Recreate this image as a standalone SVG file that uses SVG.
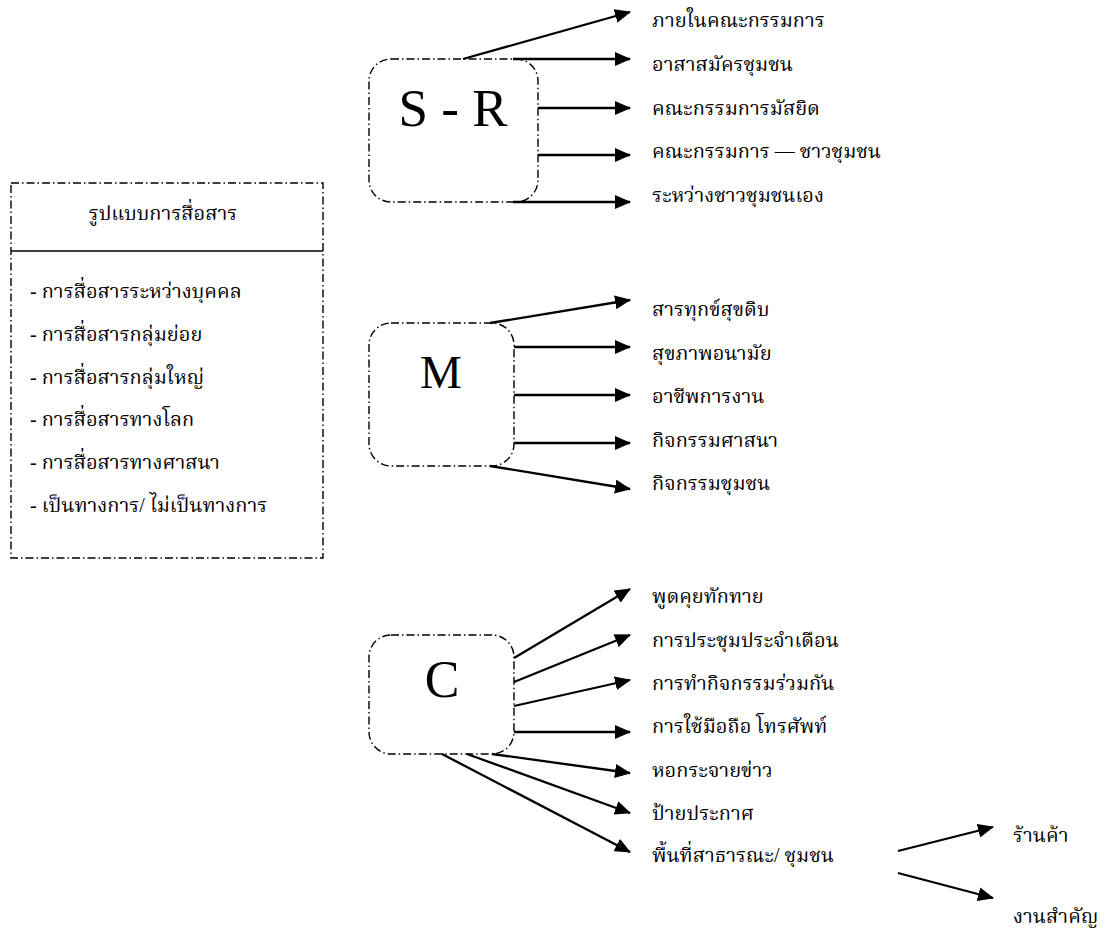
<svg xmlns="http://www.w3.org/2000/svg" width="1106" height="933" viewBox="0 0 1106 933">
  <defs>
    <marker id="arrow" viewBox="0 0 16 14" refX="15" refY="7" markerWidth="16" markerHeight="14" markerUnits="userSpaceOnUse" orient="auto">
      <path d="M0,0 L16,7 L0,14 Z" fill="#000"/>
    </marker>
    <style>
      .frame { fill: #fff; stroke: #000; stroke-width: 1.4; stroke-dasharray: 8 3 1.5 3; }
      .rule { stroke: #000; stroke-width: 1.6; }
      .link { fill: none; stroke: #000; stroke-width: 2.3; marker-end: url(#arrow); }
      .big { font-family: "Liberation Serif", "Times New Roman", serif; fill: #000; text-anchor: middle; }
      .th { font-family: "Liberation Serif", "Noto Serif Thai", "Noto Sans Thai", "DejaVu Serif", serif; font-size: 20px; fill: #000; }
      .bg { fill: #fff; }
    </style>
  </defs>
  <rect class="bg" x="0" y="0" width="1106" height="933"/>

  <!-- communication forms panel -->
  <g id="forms">
    <rect class="frame" x="11" y="183" width="312" height="375"/>
    <line class="rule" x1="11" y1="251" x2="323" y2="251"/>
    <text class="th" x="163" y="220" text-anchor="middle">รูปแบบการสื่อสาร</text>
    <text class="th" x="30" y="298">- การสื่อสารระหว่างบุคคล</text>
    <text class="th" x="30" y="341">- การสื่อสารกลุ่มย่อย</text>
    <text class="th" x="30" y="384">- การสื่อสารกลุ่มใหญ่</text>
    <text class="th" x="30" y="426">- การสื่อสารทางโลก</text>
    <text class="th" x="30" y="469">- การสื่อสารทางศาสนา</text>
    <text class="th" x="30" y="512">- เป็นทางการ/ ไม่เป็นทางการ</text>
  </g>

  <!-- sender / receiver -->
  <g id="node-sr">
    <rect class="frame" x="369" y="59" width="169" height="143" rx="22" ry="22"/>
    <text class="big" x="453" y="126" font-size="53">S - R</text>
  </g>

  <!-- message -->
  <g id="node-m">
    <rect class="frame" x="369" y="323" width="145" height="143" rx="22" ry="22"/>
    <text class="big" x="441" y="388" font-size="47">M</text>
  </g>

  <!-- channel -->
  <g id="node-c">
    <rect class="frame" x="369" y="635" width="145" height="119" rx="22" ry="22"/>
    <text class="big" x="442" y="697" font-size="52">C</text>
  </g>

  <g id="connectors">
    <!-- S - R -->
    <line class="link" x1="463" y1="59" x2="630" y2="12"/>
    <line class="link" x1="513" y1="59" x2="630" y2="59"/>
    <line class="link" x1="538" y1="108" x2="630" y2="108"/>
    <line class="link" x1="538" y1="155" x2="630" y2="155"/>
    <line class="link" x1="513" y1="202" x2="630" y2="202"/>
    <!-- M -->
    <line class="link" x1="490" y1="323" x2="630" y2="300"/>
    <line class="link" x1="514" y1="347" x2="630" y2="347"/>
    <line class="link" x1="514" y1="395" x2="630" y2="395"/>
    <line class="link" x1="514" y1="443" x2="630" y2="443"/>
    <line class="link" x1="490" y1="466" x2="630" y2="489"/>
    <!-- C -->
    <line class="link" x1="514" y1="658" x2="630" y2="589"/>
    <line class="link" x1="514" y1="682" x2="630" y2="635"/>
    <line class="link" x1="514" y1="706" x2="630" y2="680"/>
    <line class="link" x1="514" y1="732" x2="630" y2="732"/>
    <line class="link" x1="492" y1="754" x2="630" y2="773"/>
    <line class="link" x1="467" y1="754" x2="630" y2="813"/>
    <line class="link" x1="442" y1="754" x2="630" y2="852"/>
    <!-- public space -->
    <line class="link" x1="898" y1="851" x2="993" y2="827"/>
    <line class="link" x1="898" y1="873" x2="993" y2="898"/>
  </g>

  <g id="labels-sr">
    <text class="th" x="652" y="27">ภายในคณะกรรมการ</text>
    <text class="th" x="652" y="71">อาสาสมัครชุมชน</text>
    <text class="th" x="652" y="115">คณะกรรมการมัสยิด</text>
    <text class="th" x="652" y="158">คณะกรรมการ — ชาวชุมชน</text>
    <text class="th" x="652" y="202">ระหว่างชาวชุมชนเอง</text>
  </g>

  <g id="labels-m">
    <text class="th" x="652" y="316">สารทุกข์สุขดิบ</text>
    <text class="th" x="652" y="360">สุขภาพอนามัย</text>
    <text class="th" x="652" y="403">อาชีพการงาน</text>
    <text class="th" x="652" y="447">กิจกรรมศาสนา</text>
    <text class="th" x="652" y="490">กิจกรรมชุมชน</text>
  </g>

  <g id="labels-c">
    <text class="th" x="652" y="603">พูดคุยทักทาย</text>
    <text class="th" x="652" y="647">การประชุมประจำเดือน</text>
    <text class="th" x="652" y="690">การทำกิจกรรมร่วมกัน</text>
    <text class="th" x="652" y="733">การใช้มือถือ โทรศัพท์</text>
    <text class="th" x="652" y="777">หอกระจายข่าว</text>
    <text class="th" x="652" y="820">ป้ายประกาศ</text>
    <text class="th" x="652" y="862">พื้นที่สาธารณะ/ ชุมชน</text>
  </g>

  <g id="labels-space">
    <text class="th" x="1013" y="842">ร้านค้า</text>
    <text class="th" x="1013" y="923">งานสำคัญ</text>
  </g>
</svg>
